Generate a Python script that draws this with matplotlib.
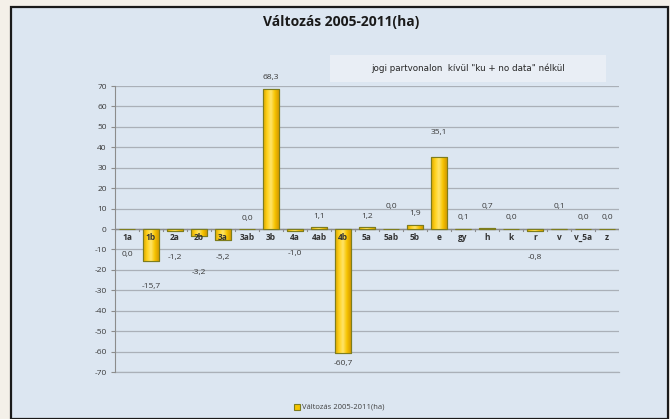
import matplotlib
matplotlib.use("Agg")
import matplotlib.pyplot as plt
from matplotlib.patches import Rectangle
from matplotlib.colors import LinearSegmentedColormap
import numpy as np

categories = ["1a", "1b", "2a", "2b", "3a", "3ab", "3b", "4a", "4ab", "4b", "5a",
              "5ab", "5b", "e", "gy", "h", "k", "r", "v", "v_5a", "z"]
values = [0.0, -15.7, -1.2, -3.2, -5.2, 0.0, 68.3, -1.0, 1.1, -60.7, 1.2,
          0.0, 1.9, 35.1, 0.1, 0.7, 0.0, -0.8, 0.1, 0.0, 0.0]
# where Excel put each value label, relative to the bar end (data units)
label_offset = [-12.7, -12.3, -12.8, -18.3, -8.8, 5.0, 5.7, -11.0, 4.9, -5.3, 4.8,
                11.0, 5.6, 11.9, 5.4, 10.3, 5.5, -13.2, 10.9, 5.5, 5.5]
yticks = list(range(-70, 80, 10))
title = "Változás 2005-2011(ha)"
note = 'jogi partvonalon  kívül "ku + no data" nélkül'

W, H = 670, 419
fig = plt.figure(figsize=(W / 100, H / 100), dpi=100)
fig.patch.set_facecolor("#f4f0e9")

# chart panel
panel = Rectangle((11 / W, 0), 657 / W, (H - 7) / H, transform=fig.transFigure,
                  facecolor="#dce6f1", edgecolor="#1a1a1a", linewidth=1.6, zorder=-2)
fig.patches.append(panel)
# note box
fig.patches.append(Rectangle((330 / W, 1 - 82 / H), 276 / W, 27 / H,
                             transform=fig.transFigure, facecolor="#e9eef5",
                             edgecolor="none", zorder=-1))

ax = fig.add_axes([115 / W, (H - 372) / H, 504 / W, 286 / H])
ax.set_facecolor("none")

x = np.arange(len(categories))
bars = ax.bar(x, values, width=0.65, color="#f5c400", edgecolor="#7d7d1e",
              linewidth=0.8, zorder=3)

# cylinder-like shading like the Excel bars
shade = LinearSegmentedColormap.from_list(
    "gold", ["#d9a400", "#ffd21a", "#ffe46a", "#f7c400", "#d49a00"])
grad = np.linspace(0, 1, 64).reshape(1, -1)
for b in bars:
    x0, y0 = b.get_x(), b.get_y()
    w, h = b.get_width(), b.get_height()
    if h == 0:
        continue
    im = ax.imshow(grad, cmap=shade, aspect="auto", zorder=3.5,
                   extent=(x0, x0 + w, min(y0, y0 + h), max(y0, y0 + h)))
    im.set_clip_path(b)
    ax.add_patch(Rectangle((x0, y0), w, h, facecolor="none", edgecolor="#7d7d1e",
                           linewidth=0.8, zorder=3.6))

ax.set_xlim(-0.5, len(categories) - 0.5)
ax.set_ylim(-70, 70)
ax.set_yticks(yticks)
ax.set_yticklabels([str(t) for t in yticks], fontsize=6, color="#3a3a3a",
                   family="Open Sans")
ax.tick_params(axis="y", length=3, width=0.8, color="#8c8c8c", pad=3)
ax.set_xticks([])
ax.grid(axis="y", color="#aab0b8", linewidth=0.9, zorder=1)
for s in ["top", "right", "bottom"]:
    ax.spines[s].set_visible(False)
ax.spines["left"].set_color("#8c8c8c")
ax.axhline(0, color="#8c8c8c", linewidth=1.0, zorder=2)
ax.axhline(-70, color="#aab0b8", linewidth=0.9, zorder=1, clip_on=False)
for b in np.arange(-0.5, len(categories), 1.0):
    ax.plot([b, b], [0, -1.2], color="#8c8c8c", linewidth=0.8, zorder=2)

for xi, cat, v, off in zip(x, categories, values, label_offset):
    ax.text(xi, -4.2, cat, ha="center", va="center", fontsize=6,
            fontweight="bold", color="#333333", family="Open Sans", zorder=4)
    ax.text(xi, v + off, f"{v:.1f}".replace(".", ","), ha="center", va="center",
            fontsize=6, color="#3a3a3a", family="Open Sans", zorder=4)

fig.text(341 / W, 1 - 22 / H, title, ha="center", va="center", fontsize=10,
         fontweight="bold", color="#1a1a1a", family="Open Sans")

fig.text(468 / W, 1 - 68 / H, note, ha="center", va="center", fontsize=6.3,
         color="#262626", family=["Liberation Sans Narrow", "DejaVu Sans"])

# legend
fig.patches.append(Rectangle((294 / W, 1 - 410 / H), 6 / W, 6 / H,
                             transform=fig.transFigure, facecolor="#f5c400",
                             edgecolor="#7d7d1e", linewidth=0.8))
fig.text(302 / W, 1 - 407 / H, title, ha="left", va="center", fontsize=5.5,
         color="#404040", family="Open Sans")

fig.savefig("out.png", dpi=100)
